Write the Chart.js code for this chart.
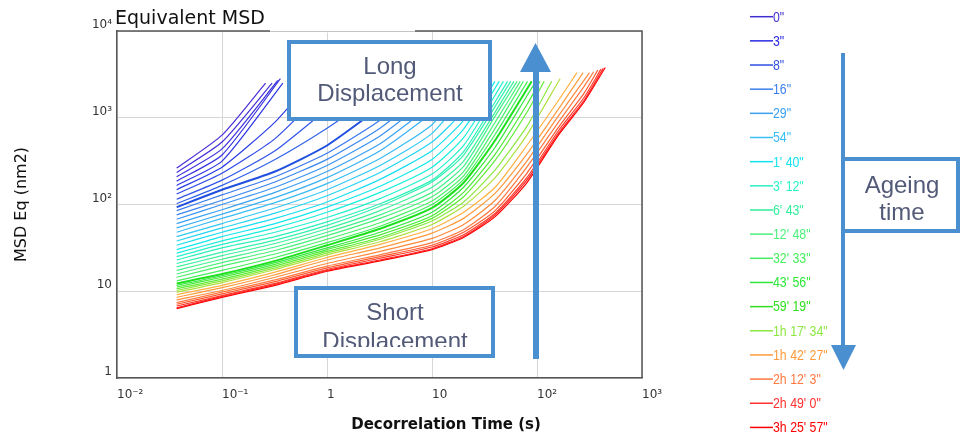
<!DOCTYPE html>
<html>
<head>
<meta charset="utf-8">
<script src="https://cdn.jsdelivr.net/npm/chart.js"></script>
<style>
  html, body { margin: 0; padding: 0; background: #fff; }
</style>
</head>
<body>
<canvas id="msdChart" width="965" height="434"></canvas>
<script>
// lag times (s) shared by every MSD curve
const lagTimes = [0.037, 0.1, 0.32, 1, 3.2, 10, 20, 40, 80, 160, 280];

// MSD Eq (nm2) at each lag time, one row per acquisition (youngest first).
// The matching *Ends entry is the last measured point [time, msd] or null.
const violetCurves = [
  [263, 631],
  [234, 525],
  [209, 437],
  [186, 372],
  [166, 316],
  [148, 269, 891],
  [132, 229, 575, 2240],
  [115, 191, 417, 1260]
];
const violetEnds = [[0.26, 2510], [0.30, 2510], [0.34, 2690], [0.36, 2820], [0.38, 2510], [0.63, 2240], null, null];

const blueCurves = [
  [102, 166, 331, 759, 2000],
  [93.3, 148, 240, 479, 1320],
  [85.1, 129, 209, 389, 933, 2820],
  [75.9, 112, 182, 331, 759, 2240],
  [67.6, 100, 158, 282, 617, 1780],
  [60.3, 87.1, 138, 240, 501, 1410],
  [53.7, 77.6, 120, 204, 417, 1150, 2820]
];
const blueEnds = [null, null, null, null, null, null, null];

const cyanCurves = [
  [47.9, 69.2, 105, 174, 339, 832],
  [42.7, 60.3, 91.2, 148, 282, 661],
  [38.0, 53.7, 79.4, 126, 234, 525, 1200],
  [33.9, 47.9, 69.2, 107, 195, 417, 933],
  [30.2, 42.7, 60.3, 93.3, 162, 331, 741],
  [27.5, 38.0, 53.7, 81.3, 138, 269, 589],
  [25.1, 34.7, 47.9, 70.8, 117, 224, 479],
  [22.9, 31.6, 42.7, 63.1, 102, 191, 407],
  [20.9, 28.2, 38.9, 57.5, 95.5, 182, 372]
];
const cyanEnds = [[22.4, 2630], [26.3, 2630], [31.6, 2510], [35.5, 2630], [39.8, 2630], [43.7, 2630], [47.9, 2630], [52.5, 2630], [56.2, 2630]];

const springCurves = [
  [19.1, 25.7, 35.5, 52.5, 85.1, 158, 316],
  [17.4, 23.4, 32.4, 47.9, 75.9, 138, 275, 1050],
  [15.8, 21.4, 29.5, 43.7, 69.2, 123, 240, 891],
  [14.5, 19.5, 26.9, 39.8, 61.7, 110, 214, 759]
];
const springEnds = [[60.3, 2630], [64.6, 2630], [69.2, 2630], [74.1, 2630]];

const greenCurves = [
  [13.2, 17.4, 24.5, 36.3, 56.2, 100, 195, 646],
  [12.3, 15.8, 22.4, 33.9, 52.5, 91.2, 178, 550],
  [11.7, 15.1, 21.4, 31.6, 47.9, 81.3, 158, 457, 1780],
  [11.2, 14.5, 20.4, 30.2, 44.7, 74.1, 138, 380, 1410],
  [10.7, 13.8, 19.5, 28.8, 41.7, 69.2, 123, 324, 1150]
];
const greenEnds = [[81.3, 2630], [89.1, 2630], [97.7, 2630], [107, 2630], [117, 2630]];

const limeCurves = [
  [10.2, 13.2, 18.6, 27.5, 39.8, 64.6, 107, 251, 794],
  [9.77, 12.6, 17.8, 26.3, 37.2, 58.9, 95.5, 204, 631]
];
const limeEnds = [[138, 2630], [166, 2820]];

const orangeCurves = [
  [9.12, 11.7, 16.6, 24.5, 34.7, 52.5, 81.3, 158, 479, 1580],
  [8.51, 11.0, 15.5, 22.9, 31.6, 46.8, 69.2, 135, 380, 1260],
  [7.94, 10.2, 14.5, 20.9, 28.8, 40.7, 58.9, 112, 316, 1050, 2690],
  [7.41, 9.77, 13.5, 19.5, 26.3, 36.3, 51.3, 95.5, 269, 891, 2290]
];
const orangeEnds = [[240, 3310], [275, 3310], [316, 3310], [347, 3390]];

const redCurves = [
  [7.08, 9.33, 12.9, 18.6, 25.1, 33.9, 47.9, 85.1, 229, 776, 1910],
  [6.76, 8.91, 12.3, 17.8, 24.0, 32.4, 44.7, 79.4, 204, 708, 1700],
  [6.46, 8.71, 12.0, 17.4, 22.9, 30.9, 42.7, 75.9, 191, 661, 1580],
  [6.31, 8.51, 11.7, 17.0, 22.4, 30.2, 41.7, 72.4, 178, 631, 1510]
];
const redEnds = [[380, 3550], [407, 3630], [427, 3720], [447, 3800]];

// ageing time legend
const ageingLabels = ['0"', '3"', '8"', '16"', '29"', '54"', "1' 40\"", "3' 12\"", "6' 43\"", "12' 48\"",
  "32' 33\"", "43' 56\"", "59' 19\"", "1h 17' 34\"", "1h 42' 27\"", "2h 12' 3\"", "2h 49' 0\"", "3h 25' 57\""];

// axis ticks
const xTickValues = [0.01, 0.1, 1, 10, 100, 1000];
const xTickLabels = ['10⁻²', '10⁻¹', '1', '10', '10²', '10³'];
const yTickValues = [1, 10, 100, 1000, 10000];
const yTickLabels = ['1', '10', '10²', '10³', '10⁴'];

// colours
const ageingColors = ['#4030d0', '#2828e0', '#3050e0', '#3c7ff0', '#3aa0f0', '#38bff5', '#14e4f0', '#2cf0c8', '#30ee9c',
  '#4cf07c', '#44ee5c', '#2ee838', '#30e020', '#8ce840', '#ff9a3c', '#ff7840', '#ff3030', '#ff0000'];
const violetShades = ['#4a2ed6', '#4430d8', '#3c30dc', '#3430e0', '#2c34e2', '#2a3ce4', '#2c48e6', '#3054e8'];
const blueShades = ['#3262ea', '#2050e0', '#3878ee', '#3a86f0', '#3a94f2', '#3aa2f2', '#38b0f4'];
const cyanShades = ['#38bcf4', '#30c8f4', '#24d4f2', '#18def0', '#12e8ec', '#18eedc', '#24f0cc', '#2cf0bc', '#34f0ac'];
const springShades = ['#3cf09c', '#44f08c', '#4cf07c', '#4cf06c'];
const greenShades = ['#44ee5c', '#1ee01e', '#34e83c', '#48ea34', '#5eec34'];
const limeShades = ['#8ce840', '#b0e040'];
const orangeShades = ['#ffb040', '#ff9a3c', '#ff8a3c', '#ff7840'];
const redShades = ['#ff5a30', '#ff3a2a', '#ff2020', '#ff0000'];

const arrowBlue = '#4a8fd0';
const noteText = '#525a78';

const bands = [
  { rows: violetCurves, ends: violetEnds, shades: violetShades },
  { rows: blueCurves, ends: blueEnds, shades: blueShades, heavy: 1 },
  { rows: cyanCurves, ends: cyanEnds, shades: cyanShades },
  { rows: springCurves, ends: springEnds, shades: springShades },
  { rows: greenCurves, ends: greenEnds, shades: greenShades, heavy: 1 },
  { rows: limeCurves, ends: limeEnds, shades: limeShades },
  { rows: orangeCurves, ends: orangeEnds, shades: orangeShades },
  { rows: redCurves, ends: redEnds, shades: redShades }
];

const datasets = [];
bands.forEach(band => {
  band.rows.forEach((row, i) => {
    const pts = row.map((v, k) => ({ x: lagTimes[k], y: v }));
    const end = band.ends[i];
    if (end) pts.push({ x: end[0], y: end[1] });
    datasets.push({
      data: pts,
      borderColor: band.shades[i],
      borderWidth: band.heavy === i ? 2 : 1.2,
      pointRadius: 0,
      fill: false,
      tension: 0.2
    });
  });
});

// boxes, arrows, titles and the ageing legend
const annotations = {
  id: 'annotations',
  afterDraw(chart) {
    const { ctx, chartArea: a } = chart;
    ctx.save();

    // frame top and right
    ctx.strokeStyle = '#555';
    ctx.lineWidth = 1.5;
    ctx.beginPath();
    ctx.moveTo(a.left, a.top);
    ctx.lineTo(a.right, a.top);
    ctx.lineTo(a.right, a.bottom);
    ctx.stroke();
    ctx.fillStyle = '#fff';
    ctx.fillRect(270, a.top - 1.5, 145, 3);
    ctx.strokeStyle = '#c4c4c4';
    ctx.lineWidth = 1;
    ctx.beginPath();
    ctx.moveTo(270, a.top + 0.5);
    ctx.lineTo(415, a.top + 0.5);
    ctx.stroke();

    ctx.fillStyle = '#111';
    ctx.font = '19px "DejaVu Sans"';
    ctx.textAlign = 'left';
    ctx.textBaseline = 'alphabetic';
    ctx.fillText('Equivalent MSD', 115, 24);

    ctx.font = 'bold 15px "DejaVu Sans"';
    ctx.textAlign = 'center';
    ctx.fillText('Decorrelation Time (s)', 446, 429);

    function panel(x0, y0, x1, y1) {
      ctx.fillStyle = '#fff';
      ctx.fillRect(x0, y0, x1 - x0, y1 - y0);
      ctx.strokeStyle = arrowBlue;
      ctx.lineWidth = 4;
      ctx.strokeRect(x0 + 2, y0 + 2, x1 - x0 - 4, y1 - y0 - 4);
    }
    function triangle(x0, x1, yBase, xTip, yTip) {
      ctx.fillStyle = arrowBlue;
      ctx.beginPath();
      ctx.moveTo(x0, yBase);
      ctx.lineTo(x1, yBase);
      ctx.lineTo(xTip, yTip);
      ctx.closePath();
      ctx.fill();
    }

    ctx.font = '24px "Liberation Sans", Arial, sans-serif';
    ctx.textAlign = 'center';

    panel(287, 40, 492, 121);
    ctx.fillStyle = noteText;
    ctx.fillText('Long', 390, 74);
    ctx.fillText('Displacement', 390, 101);

    panel(294, 286, 495, 358);
    ctx.save();
    ctx.beginPath();
    ctx.rect(296, 290, 197, 57);
    ctx.clip();
    ctx.fillStyle = noteText;
    ctx.fillText('Short', 395, 320);
    ctx.fillText('Displacement', 395, 349);
    ctx.restore();

    // upward arrow
    ctx.fillStyle = arrowBlue;
    ctx.fillRect(533, 72, 6, 287);
    triangle(520, 551, 72, 535.5, 43);

    // ageing arrow with its label box
    ctx.fillStyle = arrowBlue;
    ctx.fillRect(841, 53, 4, 293);
    triangle(831, 856, 345, 843.5, 370);
    ctx.fillStyle = '#fff';
    ctx.fillRect(845, 159, 113, 72);
    ctx.strokeStyle = arrowBlue;
    ctx.lineWidth = 4;
    ctx.strokeRect(843, 159, 115, 72);
    ctx.fillStyle = noteText;
    ctx.fillText('Ageing', 902, 193);
    ctx.fillText('time', 902, 220);

    // ageing legend, narrow lettering
    ctx.font = '14px "Liberation Sans", Arial, sans-serif';
    ctx.textAlign = 'left';
    ctx.textBaseline = 'middle';
    ageingLabels.forEach((label, i) => {
      const y = 16.7 + i * 24.16;
      ctx.strokeStyle = ageingColors[i];
      ctx.lineWidth = 1.5;
      ctx.beginPath();
      ctx.moveTo(750, y);
      ctx.lineTo(773, y);
      ctx.stroke();
      ctx.save();
      ctx.translate(773, y + 1);
      ctx.scale(0.88, 1);
      ctx.fillStyle = ageingColors[i];
      ctx.fillText(label, 0, 0);
      ctx.restore();
    });

    ctx.restore();
  }
};

new Chart(document.getElementById('msdChart'), {
  type: 'line',
  data: { datasets },
  plugins: [annotations],
  options: {
    responsive: false,
    animation: false,
    layout: { padding: { left: 0, right: 323, top: 31, bottom: 0 } },
    plugins: { legend: { display: false }, tooltip: { enabled: false } },
    scales: {
      x: {
        type: 'logarithmic',
        min: 0.01,
        max: 1000,
        afterBuildTicks: s => { s.ticks = xTickValues.map(v => ({ value: v })); },
        afterFit: s => { s.height = 56; },
        ticks: {
          callback: (v, i) => xTickLabels[i],
          align: 'start',
          autoSkip: false,
          maxRotation: 0,
          padding: 10,
          color: '#333',
          font: { family: 'DejaVu Sans', size: 12 }
        },
        grid: { color: '#d6d6d6', drawTicks: false },
        border: { color: '#555', width: 1.5 }
      },
      y: {
        type: 'logarithmic',
        min: 1,
        max: 10000,
        afterBuildTicks: s => { s.ticks = yTickValues.map(v => ({ value: v })); },
        afterFit: s => { s.width = 117; },
        ticks: {
          callback: (v, i) => yTickLabels[i],
          autoSkip: false,
          padding: 5,
          labelOffset: -6,
          color: '#333',
          font: { family: 'DejaVu Sans', size: 12 }
        },
        grid: { color: '#d6d6d6', drawTicks: false },
        border: { color: '#555', width: 1.5 },
        title: {
          display: true,
          text: 'MSD Eq (nm2)',
          color: '#111',
          font: { family: 'DejaVu Sans', size: 16 },
          padding: { top: 12, bottom: 0 }
        }
      }
    }
  }
});
</script>
</body>
</html>
